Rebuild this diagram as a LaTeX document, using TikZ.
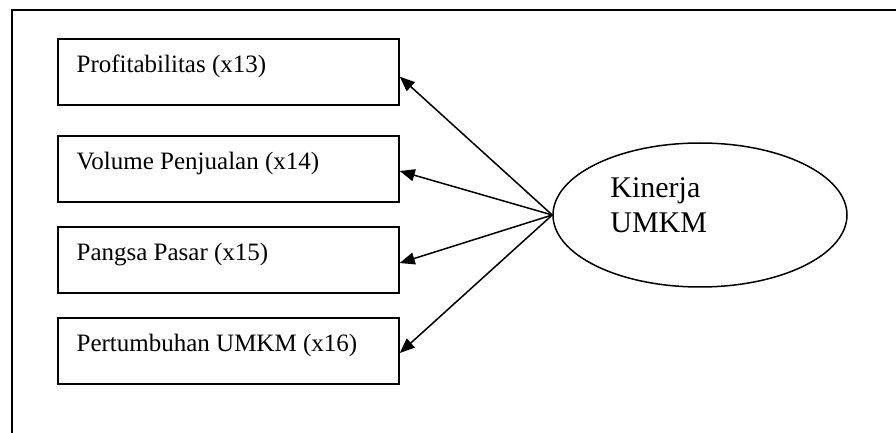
\documentclass[tikz,border=0pt]{standalone}
\usepackage{fontspec}
\setmainfont{Liberation Serif}
\usetikzlibrary{shapes.geometric,arrows.meta,calc}
\tikzset{
  frameline/.style={line width=0.95pt, black},
  indbox/.style={draw, line width=0.75pt, minimum width=170.5pt, minimum height=33pt, inner sep=0pt},
  indtext/.style={anchor=base west, inner sep=0pt, font=\fontsize{12.5}{15}\selectfont},
  latent/.style={draw, ellipse, line width=0.75pt, minimum width=147pt, minimum height=72pt, inner sep=0pt},
  kintext/.style={anchor=base west, inner sep=0pt, font=\fontsize{15}{17.5}\selectfont},
  loadarrow/.style={line width=0.75pt, -{Triangle[length=7.5pt,width=6pt]}}
}
\begin{document}
\begin{tikzpicture}[x=0.5pt, y=-0.5pt]
\useasboundingbox (0,0) rectangle (896,433);
% outer frame (only top and left edges visible)
\draw[frameline] (896,10) -- (12,10) -- (12,433);
% indicator boxes
\node[indbox] (b1) at (228.5,72.25) {};
\node[indbox] (b2) at (228.5,169) {};
\node[indbox] (b3) at (228.5,260) {};
\node[indbox] (b4) at (228.5,351) {};
\node[indtext] (t1) at ($(b1.north west)+(19,34)$) {Profitabilitas (x13)};
\node[indtext] (t2) at ($(b2.north west)+(19,34)$) {Volume Penjualan (x14)};
\node[indtext] (t3) at ($(b3.north west)+(19,34)$) {Pangsa Pasar (x15)};
\node[indtext] (t4) at ($(b4.north west)+(19,34)$) {Pertumbuhan UMKM (x16)};
% latent variable
\node[latent] (e) at (700,215) {};
\node[kintext] (k1) at (610,198) {Kinerja};
\node[kintext] (k2) at (610,233) {UMKM};
% arrows
\draw[loadarrow] (e.west) -- ($(b1.north east)!0.565!(b1.south east)$);
\draw[loadarrow] (e.west) -- ($(b2.north east)!0.53!(b2.south east)$);
\draw[loadarrow] (e.west) -- ($(b3.north east)!0.545!(b3.south east)$);
\draw[loadarrow] (e.west) -- ($(b4.north east)!0.53!(b4.south east)$);
\end{tikzpicture}
\end{document}
